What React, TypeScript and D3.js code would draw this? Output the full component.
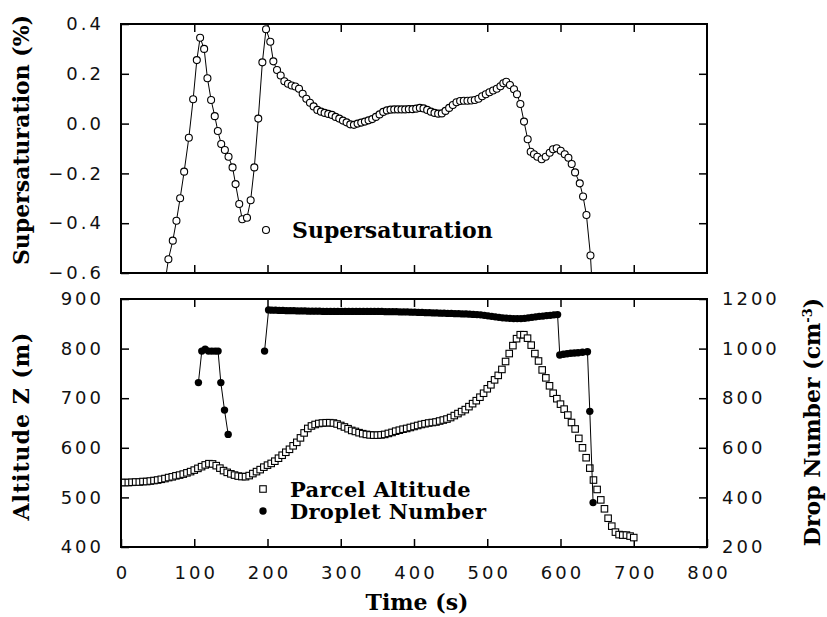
import { useEffect, useRef } from 'react';
import * as d3 from 'd3';

// supersaturation (%), [time s, value]
const supersat: [number, number][] = [
  [60, -0.64], [64.7, -0.545], [70.7, -0.47], [75.7, -0.39], [80.7, -0.3], [86.2, -0.193], [92.6, -0.057], [98.5, 0.098],
  [103.5, 0.255], [108, 0.345], [113.5, 0.3], [118, 0.182], [123, 0.095], [128, 0.03], [132.2, -0.03], [136.8, -0.082],
  [141.8, -0.106], [146.8, -0.133], [152.3, -0.176], [156.4, -0.243], [161.4, -0.323], [165.5, -0.384], [172, -0.378], [177, -0.308],
  [182, -0.176], [187.4, 0.02], [193, 0.246], [198, 0.379], [203.8, 0.329], [208, 0.25], [213, 0.215], [218, 0.193],
  [223, 0.17], [228, 0.16], [233, 0.153], [238, 0.149], [243, 0.14], [248, 0.12], [253, 0.1], [258, 0.084],
  [263, 0.069], [268, 0.055], [273, 0.048], [278, 0.043], [283, 0.039], [288, 0.035], [293, 0.027], [298, 0.02],
  [303, 0.012], [308, 0.005], [313, -0.003], [318, -0.005], [323, 0], [328, 0.004], [333, 0.008], [338, 0.013],
  [343, 0.018], [348, 0.027], [353, 0.037], [358, 0.047], [363, 0.053], [368, 0.056], [373, 0.057], [378, 0.057],
  [383, 0.057], [388, 0.057], [393, 0.058], [398, 0.058], [403, 0.06], [408, 0.063], [413, 0.061], [418, 0.055],
  [423, 0.048], [428, 0.043], [433, 0.04], [438, 0.041], [443, 0.051], [448, 0.063], [453, 0.075], [458, 0.086],
  [463, 0.091], [468, 0.092], [473, 0.092], [478, 0.093], [483, 0.095], [488, 0.1], [493, 0.11], [498, 0.118],
  [503, 0.126], [508, 0.133], [513, 0.14], [518, 0.15], [522, 0.162], [526, 0.168], [531, 0.155], [536.5, 0.138],
  [540.6, 0.118], [545.2, 0.079], [550.2, 0.008], [555.2, -0.063], [559.3, -0.113], [563.8, -0.123], [568.4, -0.133], [574.3, -0.143],
  [579.8, -0.133], [585.3, -0.117], [589.8, -0.103], [594.8, -0.099], [600.3, -0.109], [605.8, -0.123], [610.8, -0.137], [615.3, -0.162],
  [619.9, -0.196], [626.3, -0.24], [630.8, -0.293], [635.4, -0.367], [640.9, -0.53], [645, -0.75]
];

// parcel altitude (m)
const altitude: [number, number][] = [
  [0, 530], [5, 530], [10, 530], [15, 530.5], [20, 531], [25, 531], [30, 532], [35, 532],
  [40, 533], [45, 534], [50, 535], [55, 536.5], [60, 538], [65, 540], [70, 541.5], [75, 543.5],
  [80, 545], [85, 547], [90, 549.5], [95, 552], [100, 555], [105, 558.5], [110, 562], [115, 565.5],
  [120, 568], [125, 567.5], [130, 564], [135, 559], [140, 554], [145, 550.5], [150, 547.5], [155, 545],
  [160, 543], [165, 542], [170, 541.8], [175, 544], [180, 548], [185, 552], [190, 556], [195, 561],
  [200, 565], [205, 568.5], [210, 573], [215, 579], [220, 585], [225, 591], [230, 597], [235, 604],
  [240, 611], [245, 620], [250, 630], [255, 639], [260, 644], [265, 647], [270, 649], [275, 650],
  [280, 650.5], [285, 650.6], [290, 650], [295, 648], [300, 645], [305, 642], [310, 638.5], [315, 635],
  [320, 633], [325, 630.5], [330, 628.5], [335, 627], [340, 626], [345, 625.5], [350, 625.5], [355, 626],
  [360, 627], [365, 629], [370, 631], [375, 633.5], [380, 635.5], [385, 637.5], [390, 639], [395, 641],
  [400, 643], [405, 645], [410, 647], [415, 648.5], [420, 650], [425, 651], [430, 652], [435, 654],
  [440, 656], [445, 658], [450, 661], [455, 665], [460, 669], [465, 673], [470, 677], [475, 683],
  [480, 689], [485, 695], [490, 702], [495, 710], [500, 719], [505, 727], [510, 737], [515, 746],
  [520, 758], [525, 774], [530, 790], [535, 806], [540, 820], [545, 828], [550, 828], [555, 821],
  [560, 807], [565, 790], [570, 775], [575, 757], [580, 741], [585, 725], [590, 710], [595, 699],
  [600, 688], [605, 678], [610, 666], [615, 651], [620, 638], [625, 619], [630, 600], [635, 580],
  [640, 559], [645, 535], [650, 516], [655, 495], [660, 477], [665, 458], [670, 442], [675, 430],
  [680, 425], [685, 424], [690, 424], [695, 422], [700, 419]
];

// droplet number (cm-3), two separate stretches
const dropletEarly: [number, number][] = [
  [105.7, 863], [110.3, 990], [114.9, 998], [119.4, 990], [124, 990], [128.6, 990], [132.5, 990],
  [136.3, 863], [141.3, 752], [146.3, 654]
];

const dropletMain: [number, number][] = [
  [196, 990], [201.5, 1156], [206, 1155], [211, 1155], [216, 1154], [221, 1154], [226, 1153], [231, 1153],
  [236, 1153], [241, 1152], [246, 1152], [251, 1152], [256, 1151], [261, 1151], [266, 1151], [271, 1151],
  [276, 1150], [281, 1150], [286, 1150], [291, 1150], [296, 1150], [301, 1150], [306, 1150], [311, 1150],
  [316, 1150], [321, 1150], [326, 1150], [331, 1150], [336, 1150], [341, 1150], [346, 1150], [351, 1150],
  [356, 1150], [361, 1149], [366, 1149], [371, 1149], [376, 1149], [381, 1148], [386, 1148], [391, 1148],
  [396, 1147], [401, 1147], [406, 1146], [411, 1146], [416, 1145], [421, 1145], [426, 1144], [431, 1144],
  [436, 1143], [441, 1143], [446, 1142], [451, 1142], [456, 1141], [461, 1141], [466, 1140], [471, 1140],
  [476, 1139], [481, 1138], [486, 1137], [491, 1136], [496, 1134], [501, 1132], [506, 1130], [511, 1128],
  [516, 1126], [521, 1124], [526, 1123], [531, 1122], [536, 1121], [541, 1121], [546, 1121], [551, 1122],
  [556, 1124], [561, 1126], [566, 1128], [571, 1130], [576, 1131], [581, 1133], [586, 1134], [591, 1136],
  [596, 1137], [599, 974], [604, 977], [609, 979], [614, 981], [619, 982], [624, 983], [630, 985],
  [636.8, 987], [640, 747], [644.5, 379]
];

const timeTicks = [0, 100, 200, 300, 400, 500, 600, 700, 800];
const satTicks = [-0.6, -0.4, -0.2, 0, 0.2, 0.4];
const altTicks = [400, 500, 600, 700, 800, 900];
const dropTicks = [200, 400, 600, 800, 1000, 1200];

const TICK_FONT = 'DejaVu Sans';
const TITLE_FONT = 'DejaVu Serif';

const App = () => {
  const svgRef = useRef<SVGSVGElement>(null);

  useEffect(() => {
    const svg = d3.select(svgRef.current);
    svg.selectAll('*').remove();

    const left = 121, right = 707;
    const top1 = 24, bot1 = 273;
    const top2 = 299, bot2 = 547;

    const x = d3.scaleLinear().domain([0, 800]).range([left, right]);
    const ySat = d3.scaleLinear().domain([-0.6, 0.4]).range([bot1, top1]);
    const yAlt = d3.scaleLinear().domain([400, 900]).range([bot2, top2]);
    const yDrop = d3.scaleLinear().domain([200, 1200]).range([bot2, top2]);

    const inner = timeTicks.slice(1, -1);

    const styleAxis = (g: any, labels: boolean, shift = 0) => {
      g.select('.domain').remove();
      g.selectAll('.tick line').attr('stroke', '#000').attr('stroke-width', 1.5);
      if (!labels) {
        g.selectAll('.tick text').remove();
        return;
      }
      g.selectAll('.tick text')
        .attr('fill', '#111')
        .attr('dx', shift)
        .style('font-family', TICK_FONT)
        .style('font-size', '18px')
        .style('letter-spacing', '3px');
    };

    // clip regions
    const defs = svg.append('defs');
    defs.append('clipPath').attr('id', 'clipTop')
      .append('rect').attr('x', left).attr('y', top1).attr('width', right - left).attr('height', bot1 - top1);
    defs.append('clipPath').attr('id', 'clipBot')
      .append('rect').attr('x', left).attr('y', top2).attr('width', right - left).attr('height', bot2 - top2);

    // ---------- upper panel ----------
    svg.append('g').attr('transform', `translate(${left},0)`)
      .call(d3.axisLeft(ySat).tickValues(satTicks).tickSize(-8).tickPadding(20).tickFormat(d3.format('.1f')))
      .call((g: any) => styleAxis(g, true, 3));
    svg.append('g').attr('transform', `translate(${right},0)`)
      .call(d3.axisRight(ySat).tickValues(satTicks.slice(1, -1)).tickSize(-8))
      .call((g: any) => styleAxis(g, false));
    svg.append('g').attr('transform', `translate(0,${top1})`)
      .call(d3.axisTop(x).tickValues(inner).tickSize(-8))
      .call((g: any) => styleAxis(g, false));
    svg.append('g').attr('transform', `translate(0,${bot1})`)
      .call(d3.axisBottom(x).tickValues(inner).tickSize(-8))
      .call((g: any) => styleAxis(g, false));

    const satLayer = svg.append('g').attr('clip-path', 'url(#clipTop)');
    const satLine = d3.line<[number, number]>().x(d => x(d[0])).y(d => ySat(d[1]));
    satLayer.append('path').datum(supersat)
      .attr('fill', 'none').attr('stroke', '#000').attr('stroke-width', 1).attr('d', satLine);
    satLayer.selectAll('circle').data(supersat).join('circle')
      .attr('cx', d => x(d[0])).attr('cy', d => ySat(d[1])).attr('r', 3.5)
      .attr('fill', '#fff').attr('stroke', '#000').attr('stroke-width', 1.1);

    svg.append('rect').attr('x', left).attr('y', top1).attr('width', right - left).attr('height', bot1 - top1)
      .attr('fill', 'none').attr('stroke', '#000').attr('stroke-width', 2);

    // legend upper
    svg.append('circle').attr('cx', 266).attr('cy', 230).attr('r', 3.5)
      .attr('fill', '#fff').attr('stroke', '#000').attr('stroke-width', 1.1);
    svg.append('text').attr('x', 292).attr('y', 238)
      .style('font-family', TITLE_FONT).style('font-weight', 'bold').style('font-size', '22px')
      .text('Supersaturation');

    // ---------- lower panel ----------
    svg.append('g').attr('transform', `translate(${left},0)`)
      .call(d3.axisLeft(yAlt).tickValues(altTicks).tickSize(-8).tickPadding(20).tickFormat(d3.format('d')))
      .call((g: any) => styleAxis(g, true, 3));
    svg.append('g').attr('transform', `translate(${right},0)`)
      .call(d3.axisRight(yDrop).tickValues(dropTicks).tickSize(-8).tickPadding(15).tickFormat(d3.format('d')))
      .call((g: any) => styleAxis(g, true));
    svg.append('g').attr('transform', `translate(0,${bot2})`)
      .call(d3.axisBottom(x).tickValues(timeTicks).tickSize(-8).tickPadding(19).tickFormat(d3.format('d')))
      .call((g: any) => styleAxis(g, true, 1.5));
    svg.append('g').attr('transform', `translate(0,${top2})`)
      .call(d3.axisTop(x).tickValues(inner).tickSize(-8))
      .call((g: any) => styleAxis(g, false));

    const botLayer = svg.append('g').attr('clip-path', 'url(#clipBot)');
    botLayer.selectAll('rect.alt').data(altitude).join('rect')
      .attr('class', 'alt')
      .attr('x', d => x(d[0]) - 3.25).attr('y', d => yAlt(d[1]) - 3.25)
      .attr('width', 6.5).attr('height', 6.5)
      .attr('fill', '#fff').attr('stroke', '#000').attr('stroke-width', 1.1);

    const dropLine = d3.line<[number, number]>().x(d => x(d[0])).y(d => yDrop(d[1]));
    [dropletEarly, dropletMain].forEach(seg => {
      botLayer.append('path').datum(seg)
        .attr('fill', 'none').attr('stroke', '#000').attr('stroke-width', 1).attr('d', dropLine);
      botLayer.append('g').selectAll('circle').data(seg).join('circle')
        .attr('cx', d => x(d[0])).attr('cy', d => yDrop(d[1])).attr('r', 3.7)
        .attr('fill', '#000');
    });

    svg.append('rect').attr('x', left).attr('y', top2).attr('width', right - left).attr('height', bot2 - top2)
      .attr('fill', 'none').attr('stroke', '#000').attr('stroke-width', 2);

    // legend lower
    svg.append('rect').attr('x', 259.75).attr('y', 485.75).attr('width', 6.5).attr('height', 6.5)
      .attr('fill', '#fff').attr('stroke', '#000').attr('stroke-width', 1.1);
    svg.append('circle').attr('cx', 263).attr('cy', 511).attr('r', 3.7).attr('fill', '#000');
    svg.append('text').attr('x', 290).attr('y', 497)
      .style('font-family', TITLE_FONT).style('font-weight', 'bold').style('font-size', '21px')
      .style('letter-spacing', '0.3px')
      .text('Parcel Altitude');
    svg.append('text').attr('x', 290).attr('y', 519)
      .style('font-family', TITLE_FONT).style('font-weight', 'bold').style('font-size', '21px')
      .style('letter-spacing', '0.3px')
      .text('Droplet Number');

    // ---------- axis titles ----------
    const title = (tx: number, ty: number, rot: number, label: string, spacing = 0) =>
      svg.append('text')
        .attr('transform', `translate(${tx},${ty}) rotate(${rot})`)
        .attr('text-anchor', 'middle')
        .style('font-family', TITLE_FONT).style('font-weight', 'bold').style('font-size', '22px')
        .style('letter-spacing', `${spacing}px`)
        .text(label);

    title(29, 140, -90, 'Supersaturation (%)');
    title(29, 426, -90, 'Altitude Z (m)', 1);
    title(417, 610, 0, 'Time (s)');

    const dropTitle = svg.append('text')
      .attr('transform', `translate(820,422) rotate(-90)`)
      .attr('text-anchor', 'middle')
      .style('font-family', TITLE_FONT).style('font-weight', 'bold').style('font-size', '22px');
    dropTitle.append('tspan').text('Drop Number (cm');
    dropTitle.append('tspan').attr('dy', -8).style('font-size', '13px').text('-3');
    dropTitle.append('tspan').attr('dy', 8).text(')');
  }, []);

  return (
    <svg
      ref={svgRef}
      width={827}
      height={617}
      style={{ position: 'absolute', left: 0, top: 0, background: '#fff' }}
    />
  );
};

export default App;
